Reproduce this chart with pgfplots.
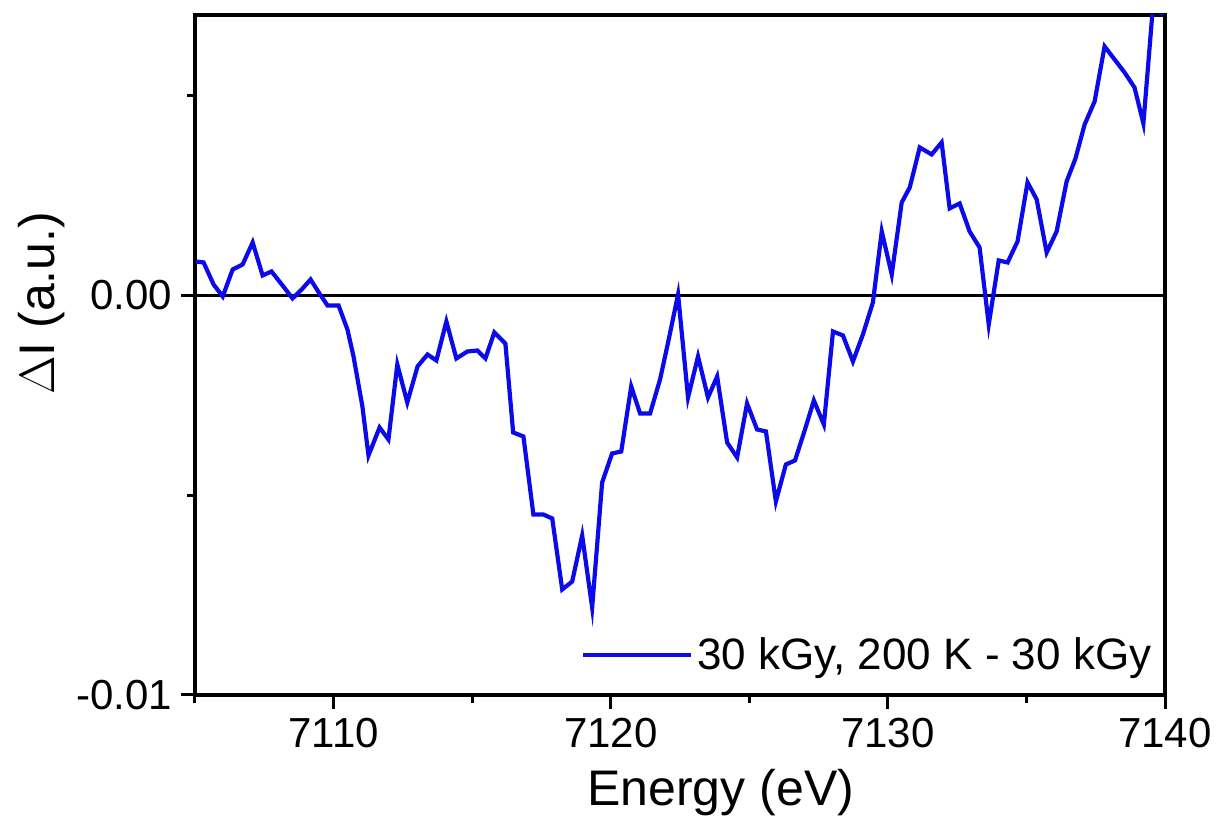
\documentclass[border=0pt]{standalone}
\usepackage{fontspec}
\setmainfont{Liberation Sans}
\usepackage{pgfplots}
\pgfplotsset{compat=1.18}

\definecolor{specblue}{RGB}{10,10,235}

\pgfplotstableread{
E       dI
7105.03  0.000851
7105.31  0.000826
7105.67  0.000275
7106.00 -0.000025
7106.36  0.000651
7106.72  0.000776
7107.08  0.001327
7107.44  0.000501
7107.76  0.000601
7108.16  0.000250
7108.52 -0.000075
7108.85  0.000150
7109.17  0.000400
7109.49  0.000050
7109.78 -0.000250
7110.18 -0.000250
7110.50 -0.000851
7110.72 -0.001527
7111.04 -0.002778
7111.26 -0.004005
7111.66 -0.003304
7111.98 -0.003604
7112.30 -0.001727
7112.66 -0.002678
7113.03 -0.001777
7113.39 -0.001477
7113.71 -0.001627
7114.07 -0.000651
7114.43 -0.001577
7114.83 -0.001402
7115.19 -0.001377
7115.48 -0.001577
7115.80 -0.000926
7116.20 -0.001201
7116.48 -0.003429
7116.85 -0.003529
7117.21 -0.005482
7117.57 -0.005482
7117.89 -0.005582
7118.25 -0.007359
7118.61 -0.007159
7118.97 -0.006007
7119.33 -0.007810
7119.69 -0.004681
7120.05 -0.003955
7120.38 -0.003905
7120.74 -0.002278
7121.06 -0.002954
7121.42 -0.002954
7121.78 -0.002103
7122.07 -0.001176
7122.43  0.000025
7122.79 -0.002553
7123.15 -0.001527
7123.51 -0.002553
7123.84 -0.002028
7124.20 -0.003680
7124.56 -0.004055
7124.92 -0.002703
7125.28 -0.003354
7125.60 -0.003404
7125.96 -0.005156
7126.32 -0.004230
7126.65 -0.004130
7127.01 -0.003354
7127.33 -0.002628
7127.69 -0.003229
7128.02 -0.000901
7128.38 -0.001001
7128.74 -0.001652
7129.10 -0.000976
7129.46 -0.000175
7129.78  0.001602
7130.14  0.000526
7130.50  0.002328
7130.79  0.002703
7131.15  0.003705
7131.58  0.003529
7131.94  0.003830
7132.23  0.002178
7132.59  0.002303
7132.95  0.001602
7133.31  0.001201
7133.64 -0.000726
7134.00  0.000876
7134.32  0.000826
7134.68  0.001352
7135.04  0.002829
7135.37  0.002403
7135.73  0.001076
7136.09  0.001602
7136.45  0.002854
7136.77  0.003429
7137.10  0.004280
7137.46  0.004856
7137.82  0.006233
7138.18  0.005907
7138.54  0.005582
7138.90  0.005206
7139.22  0.004305
7139.55  0.007109
7139.98  0.007059
}\difftable

\begin{document}
\begin{tikzpicture}
\useasboundingbox (-97.5pt,-61.5pt) rectangle (512.5pt,347.5pt);
\begin{axis}[
  scale only axis,
  width=485pt, height=340pt,
  xmin=7105, xmax=7140,
  ymin=-0.01, ymax=0.00702,
  axis line style={line width=1.7pt, -},
  xtick pos=bottom,
  ytick pos=left,
  xtick={7110,7120,7130,7140},
  minor xtick={7105,7115,7125,7135},
  ytick={-0.01,0},
  yticklabels={-0.01,0.00},
  minor ytick={-0.005,0.005},
  tick align=outside,
  major tick length=7pt,
  minor tick length=4pt,
  every tick/.style={line width=1.5pt, black},
  tick label style={font=\fontsize{21}{24}\selectfont},
  /pgf/number format/assume math mode=true,
  xticklabel style={/pgf/number format/1000 sep={}, yshift=-1pt},
  yticklabel style={xshift=-1pt},
  xlabel={Energy (eV)},
  ylabel={$\Delta$I (a.u.)},
  label style={font=\fontsize{25}{29}\selectfont},
  xlabel style={at={(axis description cs:0.542,-0.143)}, anchor=center},
  ylabel style={at={(axis description cs:-0.158,0.576)}, anchor=center, rotate=0},
  clip=true,
  legend style={draw=none, fill=none, at={(axis description cs:0.99,0.059)}, anchor=east,
    font=\fontsize{22}{26}\selectfont, inner sep=0pt, outer sep=0pt},
  legend cell align=left,
  legend image code/.code={\draw[#1] (-4pt,0pt) -- (50pt,0pt);},
]
\addplot[black, line width=1.6pt, forget plot] coordinates {(7105,0) (7140,0)};
\addplot[specblue, line width=2.1pt, line join=miter] table[x=E, y=dI] {\difftable};
\addlegendentry{30 kGy, 200 K - 30 kGy}
\end{axis}
\end{tikzpicture}
\end{document}
